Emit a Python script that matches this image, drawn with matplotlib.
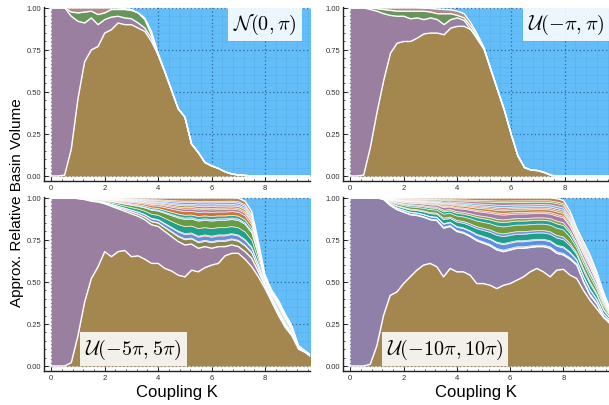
import numpy as np
import matplotlib
matplotlib.use('Agg')
import matplotlib.pyplot as plt
from matplotlib.ticker import AutoMinorLocator, FormatStrFormatter

plt.rcParams['font.family'] = ['Liberation Sans', 'DejaVu Sans']
plt.rcParams['mathtext.fontset'] = 'cm'

#----------- Data, K grid every 0.25
K = np.arange(40) * 0.25

# N(0, pi)
n_brown = [0, 0, 0.005, 0.16, 0.46, 0.68, 0.75, 0.77, 0.85, 0.87,
           0.91, 0.90, 0.90, 0.88, 0.86, 0.80, 0.72, 0.62, 0.51, 0.40,
           0.35, 0.19, 0.14, 0.08, 0.06, 0.045, 0.025, 0.012, 0.006, 0.003,
           0, 0, 0, 0, 0, 0, 0, 0, 0, 0]
n_purple = [1, 1, 1, 0.95, 0.92, 0.91, 0.94, 0.90, 0.93, 0.945,
            0.95, 0.94, 0.935, 0.91, 0.88, 0.82, 0.72, 0.62, 0.51, 0.40,
            0.35, 0.19, 0.14, 0.08, 0.06, 0.045, 0.025, 0.012, 0.006, 0.003,
            0, 0, 0, 0, 0, 0, 0, 0, 0, 0]
n_green = [1, 1, 1, 0.975, 0.97, 0.975, 0.98, 0.96, 0.97, 0.99,
           0.99, 0.99, 0.985, 0.97, 0.93, 0.84, 0.72, 0.62, 0.51, 0.40,
           0.35, 0.19, 0.14, 0.08, 0.06, 0.045, 0.025, 0.012, 0.006, 0.003,
           0, 0, 0, 0, 0, 0, 0, 0, 0, 0]
n_top = [1, 1, 1, 1, 1, 1, 1, 1, 1, 1,
         1, 0.995, 0.99, 0.97, 0.94, 0.86, 0.73, 0.62, 0.51, 0.40,
         0.35, 0.19, 0.14, 0.08, 0.06, 0.045, 0.025, 0.012, 0.006, 0.003,
         0, 0, 0, 0, 0, 0, 0, 0, 0, 0]

# U(-pi, pi)
u1_brown = [0, 0, 0.005, 0.17, 0.38, 0.57, 0.73, 0.79, 0.80, 0.80,
            0.82, 0.845, 0.85, 0.85, 0.84, 0.88, 0.89, 0.89, 0.87, 0.81,
            0.75, 0.63, 0.51, 0.39, 0.25, 0.12, 0.05, 0.035, 0.032, 0.02,
            0.003, 0, 0, 0, 0, 0, 0, 0, 0, 0]
u1_purple = [1, 1, 1, 0.99, 0.98, 0.965, 0.955, 0.95, 0.95, 0.935,
             0.94, 0.93, 0.94, 0.93, 0.90, 0.93, 0.94, 0.925, 0.87, 0.82,
             0.75, 0.63, 0.51, 0.39, 0.25, 0.12, 0.05, 0.035, 0.032, 0.02,
             0.003, 0, 0, 0, 0, 0, 0, 0, 0, 0]
u1_green = [1, 1, 1, 0.998, 0.995, 0.99, 0.985, 0.98, 0.98, 0.98,
            0.98, 0.98, 0.975, 0.965, 0.965, 0.965, 0.955, 0.94, 0.89, 0.83,
            0.75, 0.63, 0.51, 0.39, 0.25, 0.12, 0.05, 0.035, 0.032, 0.02,
            0.003, 0, 0, 0, 0, 0, 0, 0, 0, 0]
u1_top = [1, 1, 1, 1, 1, 1, 1, 1, 1, 1,
          1, 0.998, 0.996, 0.993, 0.99, 0.988, 0.98, 0.965, 0.91, 0.84,
          0.76, 0.63, 0.51, 0.39, 0.25, 0.12, 0.05, 0.035, 0.032, 0.02,
          0.003, 0, 0, 0, 0, 0, 0, 0, 0, 0]

# U(-5pi, 5pi)
u5_brown = [0, 0, 0, 0.02, 0.18, 0.38, 0.52, 0.59, 0.68, 0.65,
            0.68, 0.687, 0.65, 0.655, 0.635, 0.61, 0.61, 0.58, 0.565, 0.54,
            0.53, 0.57, 0.56, 0.585, 0.60, 0.61, 0.655, 0.67, 0.67, 0.635,
            0.59, 0.53, 0.46, 0.38, 0.30, 0.23, 0.18, 0.10, 0.08, 0.05]
u5_purple = [1, 1, 1, 1, 0.995, 0.99, 0.98, 0.975, 0.965, 0.95,
             0.935, 0.92, 0.905, 0.89, 0.87, 0.84, 0.83, 0.80, 0.77, 0.74,
             0.72, 0.725, 0.70, 0.71, 0.70, 0.71, 0.71, 0.72, 0.71, 0.68,
             0.64, 0.56, 0.475, 0.39, 0.31, 0.24, 0.185, 0.105, 0.085, 0.052]
u5_top = [1, 1, 1, 1, 1, 1, 1, 1, 1, 1,
          1, 1, 1, 1, 1, 1, 1, 1, 1, 1,
          1, 1, 1, 1, 1, 1, 1, 1, 0.998, 0.98,
          0.92, 0.74, 0.54, 0.45, 0.39, 0.31, 0.24, 0.12, 0.09, 0.06]
# share of the gap between purple and top taken by each small basin (bottom -> top)
u5_shares = [0.11, 0.02, 0.09, 0.02, 0.15, 0.15, 0.03, 0.06,
             0.08, 0.05, 0.03, 0.04, 0.03, 0.04, 0.03, 0.07]

# U(-10pi, 10pi)
u10_brown = [0, 0, 0, 0.01, 0.12, 0.30, 0.42, 0.44, 0.49, 0.53,
             0.57, 0.60, 0.61, 0.59, 0.53, 0.58, 0.56, 0.56, 0.54, 0.49,
             0.49, 0.48, 0.46, 0.48, 0.49, 0.51, 0.53, 0.56, 0.58, 0.56,
             0.53, 0.57, 0.575, 0.54, 0.52, 0.45, 0.39, 0.34, 0.29, 0.25]
u10_purple = [1, 1, 1, 1, 1, 0.99, 0.955, 0.93, 0.915, 0.90,
              0.895, 0.885, 0.87, 0.865, 0.82, 0.83, 0.80, 0.79, 0.77, 0.745,
              0.73, 0.715, 0.69, 0.68, 0.69, 0.70, 0.70, 0.705, 0.71, 0.71,
              0.70, 0.67, 0.66, 0.635, 0.60, 0.50, 0.42, 0.37, 0.29, 0.26]
u10_top = [1, 1, 1, 1, 1, 1, 1, 1, 1, 1,
           1, 1, 1, 1, 1, 1, 1, 1, 1, 1,
           1, 1, 1, 1, 1, 1, 1, 1, 1, 1,
           1, 0.995, 0.985, 0.92, 0.82, 0.74, 0.66, 0.56, 0.44, 0.34]
u10_shares = [0.03, 0.10, 0.02, 0.13, 0.05, 0.13, 0.08, 0.05, 0.09,
              0.03, 0.05, 0.03, 0.03, 0.04, 0.05, 0.03, 0.06]

labels = [r'$\mathcal{N}(0,\pi)$', r'$\mathcal{U}(-\pi,\pi)$',
          r'$\mathcal{U}(-5\pi,5\pi)$', r'$\mathcal{U}(-10\pi,10\pi)$']

#----------- Colors
BROWN = '#a3874f'
PURPLE = '#9b7fa0'
PURPLE2 = '#8f80aa'
BLUE = '#62bdf8'
GREEN = '#67955b'
MAUVE = '#b08a8a'
u5_colors = ['#8a8752', '#c3b3da', '#6a8ed2', '#d46fa0', '#22a08e', '#6a9a42',
             '#8ab8e0', '#3aa596', '#c27a3a', '#ad7f92', '#d06060', '#9a9a40',
             '#e07aa8', '#5fa0e0', '#b090d0', '#b08850']
u10_colors = ['#d8d0e0', '#5f8fe0', '#b7a6d8', '#1f9e8a', '#6f93d8', '#76993f',
              '#2aa08e', '#8aa050', '#a47fa2', '#d0709a', '#c5823f', '#a09a48',
              '#cc6060', '#70b0e0', '#b08090', '#60a060', '#c08040']


def small_layers(purple, top, shares):
	purple = np.array(purple, float)
	top = np.array(top, float)
	frac = np.cumsum(shares) / np.sum(shares)
	return [purple + f * (top - purple) for f in frac[:-1]]


def draw(ax, bounds, colors, label, pos, xmax):
	# bounds: list of layer tops from bottom, last one is where the blue starts
	tops = [np.array(b, float) for b in bounds]
	edges = [np.zeros_like(K)] + tops + [np.ones_like(K)]
	cols = colors + [BLUE]
	for i in range(len(edges) - 1):
		z = 1 if i == len(edges) - 2 else 2
		ax.fill_between(K, edges[i], edges[i + 1], color=cols[i], lw=0, zorder=z)
	for i, b in enumerate(tops):
		# main basins get a full white edge, the many small ones a thin one
		lw = 1.0 if (i < 2 or len(tops) < 6 or i == len(tops) - 1) else 0.5
		ax.plot(K, b, color='white', lw=lw, zorder=3)
	ax.set_xlim(-0.27, xmax)
	ax.set_ylim(-0.03, 1.005)
	ax.set_xticks([0, 2, 4, 6, 8])
	ax.set_yticks([0, 0.25, 0.5, 0.75, 1.0])
	ax.yaxis.set_major_formatter(FormatStrFormatter('%.2f'))
	ax.xaxis.set_minor_locator(AutoMinorLocator(5))
	ax.yaxis.set_minor_locator(AutoMinorLocator(5))
	ax.tick_params(which='both', direction='in', labelsize=5.5, labelcolor='#333333',
	               color='#222222', pad=2)
	ax.tick_params(which='major', length=3, width=0.7)
	ax.tick_params(which='minor', length=1.5, width=0.5)
	ax.set_axisbelow('line')
	ax.grid(which='major', color='#10305a', alpha=0.6, ls=(0, (1, 2)), lw=0.9)
	ax.grid(which='minor', color='#000000', alpha=0.05, lw=0.5)
	for s in ['top', 'right']:
		ax.spines[s].set_visible(False)
	for s in ['left', 'bottom']:
		ax.spines[s].set_color('#222222')
		ax.spines[s].set_linewidth(1.0)
	ax.text(pos[0], pos[1], label, transform=ax.transAxes, fontsize=14.5,
	        ha='center', va='center', zorder=5,
	        bbox=dict(facecolor='white', alpha=0.88, edgecolor='none',
	                  boxstyle='square,pad=0.25'))


W, H = 609, 406
fig = plt.figure(figsize=(W / 100, H / 100), dpi=100)


def px_axes(left, top, width, height):
	return fig.add_axes([left / W, 1 - (top + height) / H, width / W, height / H])


ax1 = px_axes(44, 8, 266, 174)
ax2 = px_axes(343, 8, 266, 174)
ax3 = px_axes(44, 198, 266, 174)
ax4 = px_axes(343, 198, 266, 174)

draw(ax1, [n_brown, n_purple, n_green, n_top], [BROWN, PURPLE, GREEN, MAUVE],
     labels[0], (0.83, 0.90), 9.68)
draw(ax2, [u1_brown, u1_purple, u1_green, u1_top], [BROWN, PURPLE, GREEN, MAUVE],
     labels[1], (0.838, 0.90), 9.65)
draw(ax3, [u5_brown, u5_purple] + small_layers(u5_purple, u5_top, u5_shares) + [u5_top],
     [BROWN, PURPLE] + u5_colors, labels[2], (0.336, 0.126), 9.68)
draw(ax4, [u10_brown, u10_purple] + small_layers(u10_purple, u10_top, u10_shares) + [u10_top],
     [BROWN, PURPLE2] + u10_colors, labels[3], (0.383, 0.126), 9.71)

for ax in (ax3, ax4):
	ax.set_xlabel('Coupling K', fontsize=12, labelpad=2)
fig.text(0.028, 0.5, 'Approx. Relative Basin Volume', rotation=90,
         ha='center', va='center', fontsize=11)

fig.savefig('out.png', dpi=100)
plt.close(fig)
